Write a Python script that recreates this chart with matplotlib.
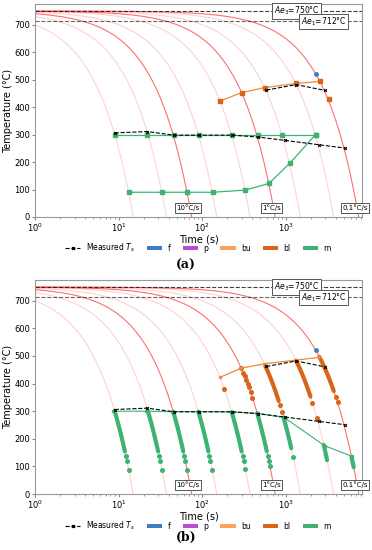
import numpy as np
import matplotlib.pyplot as plt
from matplotlib.lines import Line2D
from matplotlib.patches import Patch

# cooling rates (°C/s), linear cooling from 750 °C
rates = [50, 20, 10, 5, 2, 1, 0.5, 0.2, 0.1]
bold_rates = [10, 1, 0.1]
T0 = 750
Ae3 = 750
Ae1 = 712

# measured start temperatures
ts_low_t = [9, 22, 46, 91, 229, 467, 975, 2500, 5150]
ts_low_T = [306, 311, 298, 298, 298, 291, 279, 263, 251]
ts_up_t = [588, 1340, 2925]
ts_up_T = [462, 482, 461]

# ferrite point
f_t = [2300]
f_T = [520]

# (a) predicted start lines
a_bu_t = [166, 301, 561, 1330, 2596]
a_bu_T = [423, 453, 471, 486, 494]
a_bl_t = [3296]
a_bl_T = [429]
a_ms_t = [9, 22, 46, 91, 229, 467, 900, 2300]
a_ms_T = [300, 300, 300, 300, 300, 300, 300, 300]
a_mf_t = [13.3, 33.6, 66.8, 135, 330, 631, 1117, 2284]
a_mf_T = [90, 90, 90, 90, 98, 122, 195, 300]

# (b) predicted lines
b_bu_t = [165, 295, 565, 1330, 2540]
b_bu_T = [423, 456, 472, 485, 495]
b_m_t = [8.6, 21.6, 44, 89.6, 235, 470, 975, 2925, 6270]
b_m_T = [300, 300, 298, 298, 297, 292, 276, 175, 136]

# (b) dense bands along cooling curves: rate, top T, bottom T
m_band_rate = [50, 20, 10, 5, 2, 1, 0.5, 0.2, 0.1]
m_band_top = [300, 300, 298, 298, 296, 292, 277, 178, 135]
m_band_bot = [154, 154, 154, 154, 154, 155, 166, 123, 97]
m_tail = {50: [139, 120, 87], 20: [139, 120, 87], 10: [139, 120, 87],
          5: [139, 120, 87], 2: [139, 121, 90], 1: [139, 120, 101],
          0.5: [135]}

bl_band_rate = [0.5, 0.2, 0.1]
bl_band_top = [465, 483, 497]
bl_band_bot = [337, 353, 373]
bl_tail = {2: [380], 1: [457, 438, 426, 413, 400, 386, 370, 349],
           0.5: [321, 296], 0.2: [331, 276], 0.1: [353, 332]}

c_f = '#3d7ebf'
c_p = '#b64fd6'
c_bu = '#f5a35f'
c_bl = '#d8661a'
c_m = '#3cb371'
c_line_bu = '#ee8a3c'


def t_of(r, T):
    return (T0 - np.asarray(T, dtype=float)) / r


def base(ax):
    for r in rates:
        t = np.geomspace(0.5, T0 / r, 400)
        if r in bold_rates:
            ax.plot(t, T0 - r * t, color='#ff5555', lw=0.8, alpha=0.85, zorder=1)
        else:
            ax.plot(t, T0 - r * t, color='#ff6666', lw=0.8, alpha=0.3, zorder=1)
    ax.axhline(Ae3, color='k', ls='--', lw=0.8, alpha=0.75, zorder=2)
    ax.axhline(Ae1, color='k', ls='--', lw=0.8, alpha=0.6, zorder=2)
    box = dict(boxstyle='square,pad=0.2', fc='white', ec='#555555', lw=0.7)
    ax.text(1350, Ae3, r'$Ae_3$=750°C', fontsize=5.5, ha='center', va='center', bbox=box, zorder=5)
    ax.text(2840, Ae1, r'$Ae_1$=712°C', fontsize=5.5, ha='center', va='center', bbox=box, zorder=5)
    for r, lab in zip(bold_rates, ['10°C/s', '1°C/s', '0.1°C/s']):
        ax.text(0.9 * T0 / r, 33, lab, fontsize=5, ha='center', va='center', bbox=box, zorder=5)
    ax.plot(ts_low_t, ts_low_T, 'k--', marker='x', ms=2, mew=0.8, lw=0.8, zorder=6)
    ax.plot(ts_up_t, ts_up_T, 'k--', marker='x', ms=2, mew=0.8, lw=0.8, zorder=6)
    ax.plot(f_t, f_T, 'o', color=c_f, ms=2.5, zorder=6)
    ax.set_xscale('log')
    ax.set_xlim(1, 8200)
    ax.set_ylim(0, 775)
    ax.set_yticks(range(0, 701, 100))
    ax.set_xlabel('Time (s)', fontsize=7, labelpad=0.5)
    ax.set_ylabel('Temperature (°C)', fontsize=7, labelpad=1)
    ax.tick_params(labelsize=6, color='#888888', length=2.5, pad=1)
    ax.tick_params(which='minor', color='#888888', length=1.5)
    for s in ax.spines.values():
        s.set_color('#999999')
        s.set_linewidth(0.8)


fig = plt.figure(figsize=(3.72, 5.5), dpi=100)
axa = fig.add_axes([0.094, 0.6055, 0.879, 0.387])
axb = fig.add_axes([0.094, 0.1018, 0.879, 0.389])

# panel (a)
base(axa)
axa.plot(a_bu_t, a_bu_T, '-', color=c_line_bu, lw=0.9, zorder=3)
axa.plot(a_bu_t, a_bu_T, 's', color=c_bl, ms=2.5, zorder=4)
axa.plot(a_bl_t, a_bl_T, 's', color=c_bl, ms=2.5, zorder=4)
axa.plot(a_ms_t, a_ms_T, '-s', color=c_m, ms=2.5, lw=0.9, zorder=3)
axa.plot(a_mf_t, a_mf_T, '-s', color=c_m, ms=2.5, lw=0.9, zorder=3)

# panel (b)
base(axb)
for r, top, bot in zip(m_band_rate, m_band_top, m_band_bot):
    t = np.geomspace(t_of(r, top), t_of(r, bot), 60)
    axb.plot(t, T0 - r * t, color=c_m, lw=3, solid_capstyle='round', zorder=3)
for r, temps in m_tail.items():
    axb.plot(t_of(r, temps), temps, 'o', color=c_m, ms=2.6, zorder=3)
for r, top, bot in zip(bl_band_rate, bl_band_top, bl_band_bot):
    t = np.geomspace(t_of(r, top), t_of(r, bot), 60)
    axb.plot(t, T0 - r * t, color=c_bl, lw=3, solid_capstyle='round', zorder=3)
for r, temps in bl_tail.items():
    axb.plot(t_of(r, temps), temps, 'o', color=c_bl, ms=2.6, zorder=3)
axb.plot(b_bu_t, b_bu_T, '-o', color=c_line_bu, lw=0.9, ms=1.5, zorder=4)
axb.plot(b_m_t, b_m_T, '-o', color=c_m, lw=0.8, ms=1.5, zorder=4)

handles = [Line2D([], [], color='k', ls='--', marker='x', ms=2, lw=0.8),
           Patch(fc=c_f), Patch(fc=c_p), Patch(fc=c_bu), Patch(fc=c_bl), Patch(fc=c_m)]
labels = ['Measured $T_s$', 'f', 'p', 'bu', 'bl', 'm']
for y in [1 - 248 / 550, 1 - 526 / 550]:
    fig.legend(handles, labels, loc='center', bbox_to_anchor=(0.532, y), ncol=6,
               frameon=False, fontsize=5.5, handlelength=2.0, handleheight=0.6,
               columnspacing=1.6, handletextpad=0.7, borderpad=0)

fig.text(186 / 372, 1 - 265.5 / 550, '(a)', fontsize=9, fontweight='bold',
         family='DejaVu Serif', ha='center', va='center')
fig.text(186 / 372, 1 - 537 / 550, '(b)', fontsize=9, fontweight='bold',
         family='DejaVu Serif', ha='center', va='center')

fig.savefig('out.png', dpi=100)
